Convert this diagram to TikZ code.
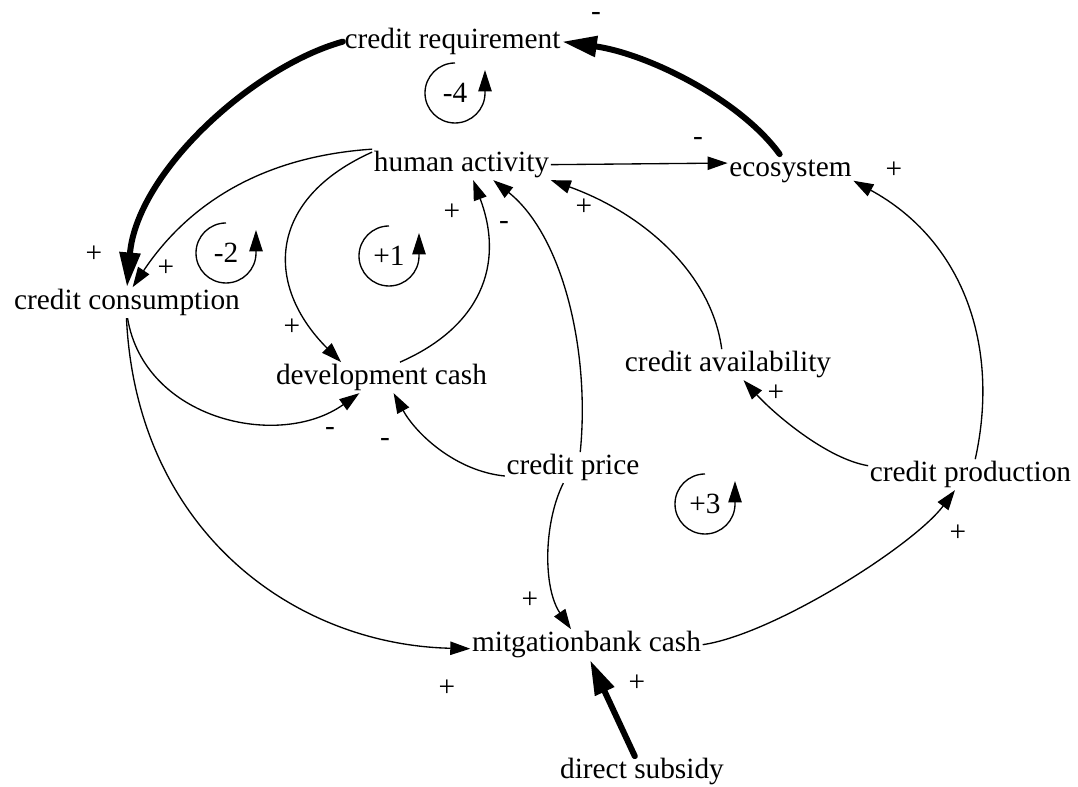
\documentclass[tikz,border=0pt]{standalone}
\usepackage{fontspec}
\setmainfont{Liberation Serif}
\usetikzlibrary{arrows.meta}
\begin{document}
\begin{tikzpicture}[x=0.75pt,y=0.75pt,
  var/.style={inner sep=1.125pt, text height=15.8pt, text depth=4.8pt, font=\fontsize{22pt}{26pt}\selectfont, anchor=base},
  sgn/.style={inner sep=0pt, font=\fontsize{22pt}{26pt}\selectfont},
  conn/.style={line width=1pt, -{Triangle[length=15pt,width=10pt]}},
  heavy/.style={line width=4.5pt, line cap=round, -{Triangle[length=26pt,width=15pt]}},
  loopsym/.style={line width=1pt, -{Triangle[length=16pt,width=10pt]}}]
\fill[white] (0,0) rectangle (1078,787);
\useasboundingbox (0,0) rectangle (1078,787);
% variables
\node[var] (cr)  at (452.5,738) {credit requirement};
\node[var] (ha)  at (461.5,615) {human activity};
\node[var] (eco) at (790.5,610) {ecosystem};
\node[var] (cc)  at (127,477)   {credit consumption};
\node[var] (dc)  at (381.5,402) {development cash};
\node[var] (cav) at (728,415)   {credit availability};
\node[var] (cp)  at (573,312)   {credit price};
\node[var] (cpr) at (970.5,305) {credit production};
\node[var] (mc)  at (586.5,135) {mitgationbank cash};
\node[var] (ds)  at (642,8)     {direct subsidy};
% connectors
\draw[heavy] (eco.125) .. controls +(-40,55) and +(85,-12) .. (cr.east);
\draw[heavy] (cr.west) .. controls +(-90,-25) and +(10,115) .. (cc.north);
\draw[conn] (ha.north west) .. controls +(-120,-8) and +(50,75) .. (cc.70);
\draw[conn] (ha.172) .. controls +(-105,-47) and +(-77,77) .. (dc.159);
\draw[conn] (dc.40) .. controls +(80,35) and +(32,-85) .. (ha.-53);
\draw[conn] (cp.65) .. controls +(10,100) and +(70,-56) .. (ha.-26);
\draw[conn] (cav.112) .. controls +(-10,75) and +(94,-34) .. (ha.south east);
\draw[conn] (ha.east) -- (eco.174);
\draw[conn] (cpr.73) .. controls +(25,113) and +(110,-60) .. (eco.-10);
\draw[conn] (cpr.175) .. controls +(-42,7) and +(30,-33) .. (cav.-45);
\draw[conn] (cp.187) .. controls +(-50,5) and +(22,-40) .. (dc.-52);
\draw[conn] (cc.-88) .. controls +(17,-102) and +(-80,-57) .. (dc.215);
\draw[conn] (cc.-92) .. controls +(10,-212) and +(-177,4) .. (mc.182);
\draw[conn] (cp.-122) .. controls +(-20,-40) and +(-28,41) .. (mc.135);
\draw[conn] (mc.east) .. controls +(70,10) and +(-42,-56) .. (cpr.-135);
\draw[heavy] (ds.115) -- (mc.-77);
% polarity signs
\node[sgn] (s1)  at (596,770) {-};
\node[sgn] (s2)  at (94,533)  {+};
\node[sgn] (s3)  at (166,519) {+};
\node[sgn] (s4)  at (292,460) {+};
\node[sgn] (s5)  at (452,575) {+};
\node[sgn] (s6)  at (504,561) {-};
\node[sgn] (s7)  at (584,580) {+};
\node[sgn] (s8)  at (698,645) {-};
\node[sgn] (s9)  at (894,617) {+};
\node[sgn] (s10) at (776,394) {+};
\node[sgn] (s11) at (385,344) {-};
\node[sgn] (s12) at (330,355) {-};
\node[sgn] (s13) at (447,99)  {+};
\node[sgn] (s14) at (530,187) {+};
\node[sgn] (s15) at (958,254) {+};
\node[sgn] (s16) at (637,104) {+};
% loop markers
\node[sgn] (l4) at (455,694) {-4};
\node[sgn] (l2) at (226,534) {-2};
\node[sgn] (l1) at (389,531) {+1};
\node[sgn] (l3) at (705,283) {+3};
\draw[loopsym] (l4.center) ++(90:30) arc[start angle=90,end angle=360,radius=30] -- ++(0,23);
\draw[loopsym] (l2.center) ++(90:30) arc[start angle=90,end angle=360,radius=30] -- ++(0,23);
\draw[loopsym] (l1.center) ++(90:30) arc[start angle=90,end angle=360,radius=30] -- ++(0,23);
\draw[loopsym] (l3.center) ++(90:30) arc[start angle=90,end angle=360,radius=30] -- ++(0,23);
\end{tikzpicture}
\end{document}
